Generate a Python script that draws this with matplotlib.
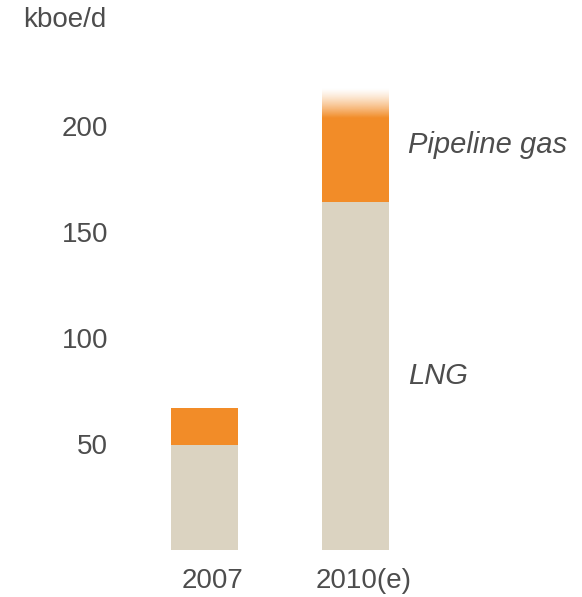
import numpy as np
import matplotlib
matplotlib.use("Agg")
from matplotlib import pyplot as plt
from matplotlib.colors import to_rgb

plt.rcParams['font.family'] = ['Liberation Sans', 'DejaVu Sans']

# data
years = ['2007', '2010(e)']
lng = [49.5, 164]
pipeline = [17.5, 40]
pipeline_fade = [0, 14]   # faded top of the 2010 estimate
yticks = [50, 100, 150, 200]

TEXT = '#4d4d4d'
ORANGE = '#F28C28'
BEIGE = '#DBD3C1'

W, H = 582, 597
PX = 2.12  # pixels per kboe/d
fig = plt.figure(figsize=(W / 100, H / 100), dpi=100)
ax = fig.add_axes([150 / W, 47 / H, 432 / W, 490 / H])

x = np.arange(len(years))
width = 67 / 151
ax.bar(x, lng, width, color=BEIGE)
ax.bar(x, pipeline, width, bottom=lng, color=ORANGE)

# gradient fade above the solid orange part
r, g, b = to_rgb(ORANGE)
for i in x:
    if pipeline_fade[i] <= 0:
        continue
    y0 = lng[i] + pipeline[i]
    a = np.linspace(1, 0, 100) ** 1.3
    img = np.zeros((100, 1, 4))
    img[:, 0, 0], img[:, 0, 1], img[:, 0, 2] = r, g, b
    img[:, 0, 3] = a
    ax.imshow(img, extent=(i - width / 2, i + width / 2, y0, y0 + pipeline_fade[i]),
              origin='lower', aspect='auto', interpolation='bilinear', zorder=3)

ax.set_xlim(-54.5 / 151, (W - 204.5) / 151)
ax.set_ylim(0, 490 / PX)
ax.set_yticks(yticks)
ax.set_yticklabels([str(v) for v in yticks], fontsize=20, color=TEXT)
ax.tick_params(axis='y', length=0, pad=30)
ax.set_xticks([])
for s in ax.spines.values():
    s.set_visible(False)

for i, lab in enumerate(years):
    ax.text(i + 8 / 151, -31 / 490, lab, transform=ax.get_xaxis_transform(),
            ha='center', va='center', fontsize=20, color=TEXT)

lx = (408 - 204.5) / 151
ax.text(lx, lng[1] + (pipeline[1] + pipeline_fade[1]) / 2, 'Pipeline gas',
        ha='left', va='center', fontsize=21, style='italic', color=TEXT)
ax.text(lx, lng[1] / 2, 'LNG', ha='left', va='center', fontsize=21,
        style='italic', color=TEXT)

fig.text(23 / W, 1 - 20 / H, 'kboe/d', ha='left', va='center', fontsize=20, color=TEXT)

fig.savefig('out.png', dpi=100)
